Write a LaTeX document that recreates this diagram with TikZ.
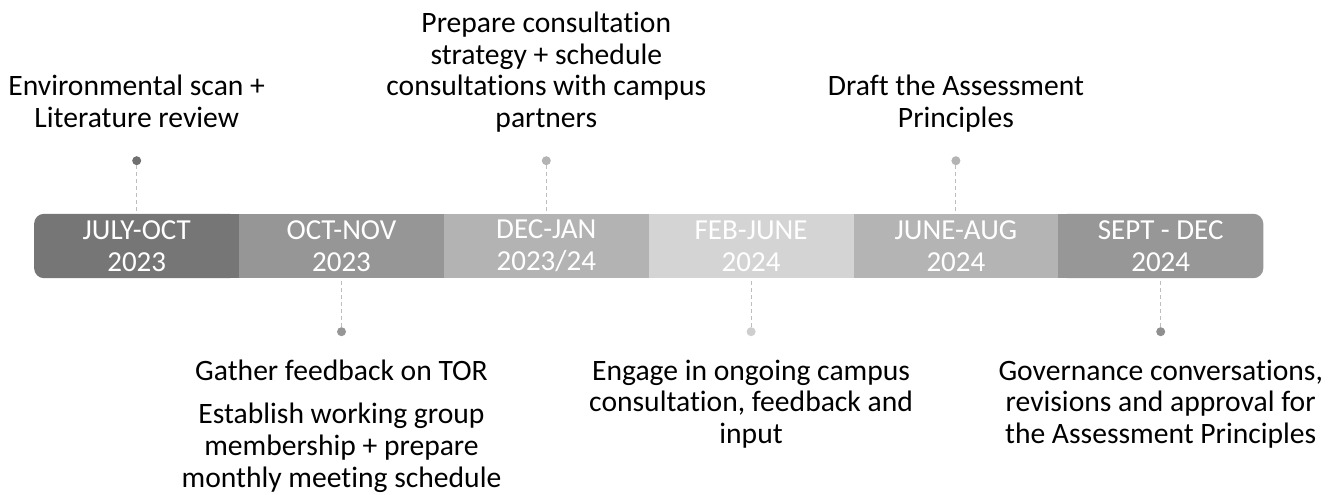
\documentclass[tikz,border=0pt]{standalone}
\usepackage{fontspec}
\setmainfont{Carlito}[Ligatures={NoCommon}]
\usetikzlibrary{backgrounds}

\definecolor{segA}{HTML}{767676}
\definecolor{segB}{HTML}{969696}
\definecolor{segC}{HTML}{B3B3B3}
\definecolor{segD}{HTML}{D4D4D4}
\definecolor{segE}{HTML}{B4B4B4}
\definecolor{segF}{HTML}{979797}
\definecolor{dashgray}{HTML}{BDBDBD}

\tikzset{
  txt/.style={font=\fontsize{29.6}{31.7}\selectfont, align=center, inner sep=0pt, text=black, anchor=base},
  period/.style={rectangle, minimum width=204.8pt, minimum height=64pt, inner sep=0pt,
    font=\fontsize{29}{32}\selectfont, align=center, text=white},
  dot/.style={circle, minimum size=9pt, inner sep=0pt},
  conn/.style={draw=dashgray, line width=1pt, dash pattern=on 4pt off 3pt},
}

\begin{document}
\begin{tikzpicture}[x=1pt, y=-1pt]
\useasboundingbox (0,0) rectangle (1336,495);

% timeline segments
\node[period]             (s1) at (136.7,246) {JULY-OCT\\2023};
\node[period, fill=segB]  (s2) at (341.5,246) {OCT-NOV\\2023};
\node[period, fill=segC]  (s3) at (546.3,246) {DEC-JAN\\2023/24};
\node[period, fill=segD]  (s4) at (751.1,246) {FEB-JUNE\\2024};
\node[period, fill=segE]  (s5) at (955.9,246) {JUNE-AUG\\2024};
\node[period]             (s6) at (1160.7,246) {SEPT - DEC\\2024};

% rounded outer ends of the bar
\begin{pgfonlayer}{background}
  \fill[segA, rounded corners=10pt] (s1.south west) rectangle (s1.north east);
  \fill[segA] (s1.south) rectangle (s1.north east);
  \fill[segF, rounded corners=10pt] (s6.south west) rectangle (s6.north east);
  \fill[segF] (s6.south west) rectangle (s6.north);
\end{pgfonlayer}

% markers
\node[dot, fill=segA!95!black] (d1) at (136.7,160.7) {};
\node[dot, fill=segB]          (d2) at (341.5,331.7) {};
\node[dot, fill=segC]          (d3) at (546.3,160.7) {};
\node[dot, fill=segD!97!black] (d4) at (751.1,331.7) {};
\node[dot, fill=segE]          (d5) at (955.9,160.7) {};
\node[dot, fill=segF!95!black] (d6) at (1160.7,331.7) {};

\draw[conn] (d1) -- (s1.north);
\draw[conn] (d2) -- (s2.south);
\draw[conn] (d3) -- (s3.north);
\draw[conn] (d4) -- (s4.south);
\draw[conn] (d5) -- (s5.north);
\draw[conn] (d6) -- (s6.south);

% milestone descriptions above the bar (anchored at the last baseline)
\node[txt] (t1) at (136.7,127.5) {Environmental scan +\\Literature review};
\node[txt] (t3) at (546.3,127.5) {Prepare consultation\\strategy + schedule\\consultations with campus\\partners};
\node[txt] (t5) at (955.9,127.5) {Draft the Assessment\\Principles};

% milestone descriptions below the bar (anchored at the last baseline)
\node[txt] (b2) at (341.5,487) {Gather feedback on TOR\\[11.6pt]Establish working group\\membership + prepare\\monthly meeting schedule};
\node[txt] (b4) at (751.1,443.4) {Engage in ongoing campus\\consultation, feedback and\\input};
\node[txt] (b6) at (1160.7,443.4) {Governance conversations,\\revisions and approval for\\the Assessment Principles};
\end{tikzpicture}
\end{document}
